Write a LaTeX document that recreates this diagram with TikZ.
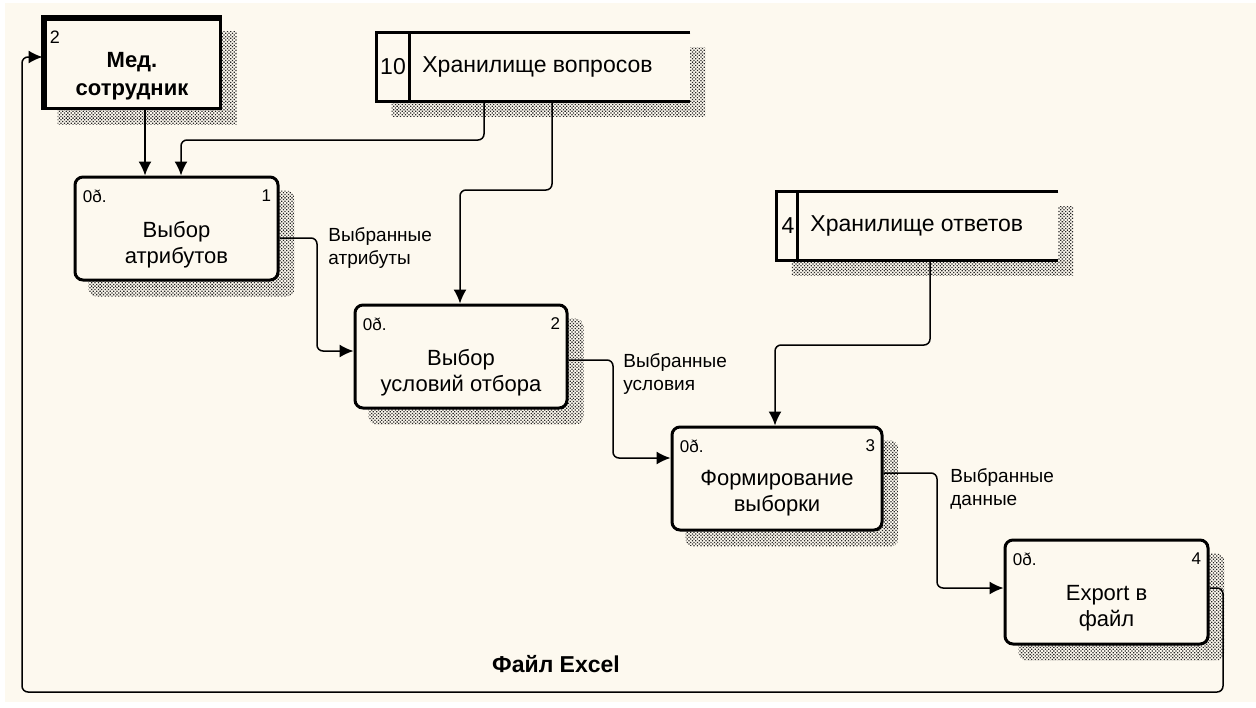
\documentclass[tikz,border=0pt]{standalone}
\usepackage{fontspec}
\setmainfont{Liberation Sans}
\usetikzlibrary{arrows.meta,patterns.meta,backgrounds}
\definecolor{cream}{RGB}{253,249,239}
\tikzset{
  proc/.style={draw, line width=1.5pt, rounded corners=4pt, fill=cream, inner sep=0pt},
  store/.style={fill=cream, inner sep=0pt},
  ptext/.style={font=\fontsize{11}{13}\selectfont, align=center, inner sep=0pt},
  stext/.style={font=\fontsize{11.5}{13}\selectfont, inner sep=0pt},
  shadowfill/.style={pattern={Dots[distance=1.2pt,radius=0.45pt,angle=45]}, pattern color=black!85},
  flow/.style={line width=0.75pt, rounded corners=3pt, -{Latex[length=7pt,width=6.5pt]}},
  lab/.style={font=\fontsize{9.5}{11.5}\selectfont, align=left, anchor=north west, inner sep=0pt},
  tag/.style={font=\fontsize{8.5}{9}\selectfont, inner sep=0pt},
}
\begin{document}
\begin{tikzpicture}[x=0.5pt,y=-0.5pt]
\useasboundingbox (0,0) rectangle (1256,707);
% nodes
\node[draw, line width=1.5pt, fill=cream, minimum width=88pt, minimum height=45pt, inner sep=0pt] (med) at (132,63) {};
\draw[line width=3pt] ([xshift=0.75pt]med.south west) -- ([shift={(0.75pt,-0.75pt)}]med.north west) -- ([yshift=-0.75pt]med.north east);
\node[font=\bfseries\fontsize{11}{14}\selectfont, align=center, inner sep=0pt] (medt) at ([yshift=-6.5pt]med.center) {Мед.\\сотрудник};
\node[tag, anchor=north west, font=\fontsize{9}{10}\selectfont] (medn) at ([shift={(7,14)}]med.north west) {2};

\node[store, minimum width=156.5pt, minimum height=34pt] (s1) at (533.5,67) {};
\draw[line width=1.5pt] (s1.north east) -- (s1.north west) -- (s1.south west) -- (s1.south east);
\draw[line width=1.5pt] ([xshift=16.5pt]s1.north west) -- ([xshift=16.5pt]s1.south west);
\node[stext] (s1n) at (393,67) {10};
\node[stext, anchor=west] (s1t) at (422,67) {Хранилище вопросов};

\node[store, minimum width=140.5pt, minimum height=34pt] (s2) at (917.5,226) {};
\draw[line width=1.5pt] (s2.north east) -- (s2.north west) -- (s2.south west) -- (s2.south east);
\draw[line width=1.5pt] ([xshift=10.5pt]s2.north west) -- ([xshift=10.5pt]s2.south west);
\node[stext] (s2n) at (788,226) {4};
\node[stext, anchor=west] (s2t) at (810,226) {Хранилище ответов};

\node[proc, minimum width=101.5pt, minimum height=51.5pt] (b1) at (176.5,228.5) {};
\node[ptext] (b1t) at ([yshift=-8pt]b1.center) {Выбор\\атрибутов};
\node[tag, anchor=north west] (b1a) at ([shift={(9,14)}]b1.north west) {0ð.};
\node[tag, anchor=north east] (b1b) at ([shift={(-8,14)}]b1.north east) {1};

\node[proc, minimum width=106pt, minimum height=51.5pt] (b2) at (461,356.5) {};
\node[ptext] (b2t) at ([yshift=-8pt]b2.center) {Выбор\\условий отбора};
\node[tag, anchor=north west] (b2a) at ([shift={(9,14)}]b2.north west) {0ð.};
\node[tag, anchor=north east] (b2b) at ([shift={(-8,14)}]b2.north east) {2};

\node[proc, minimum width=105pt, minimum height=51.5pt] (b3) at (777,478.5) {};
\node[ptext] (b3t) at ([yshift=-7.5pt]b3.center) {Формирование\\выборки};
\node[tag, anchor=north west] (b3a) at ([shift={(9,14)}]b3.north west) {0ð.};
\node[tag, anchor=north east] (b3b) at ([shift={(-8,14)}]b3.north east) {3};

\node[proc, minimum width=101.5pt, minimum height=52pt] (b4) at (1106.5,592) {};
\node[ptext] (b4t) at ([yshift=-8pt]b4.center) {Export в\\файл};
\node[tag, anchor=north west] (b4a) at ([shift={(9,14)}]b4.north west) {0ð.};
\node[tag, anchor=north east] (b4b) at ([shift={(-8,14)}]b4.north east) {4};

% background and shadows
\begin{scope}[on background layer]
\fill[white] (0,0) rectangle (1256,707);
\fill[cream] (5,3) rectangle (1256,702);
\fill[shadowfill] ([shift={(15,15)}]med.south west) rectangle ([shift={(15,15)}]med.north east);
\fill[shadowfill] ([shift={(15,15)}]s1.south west) rectangle ([shift={(15,15)}]s1.north east);
\fill[shadowfill] ([shift={(15,15)}]s2.south west) rectangle ([shift={(15,15)}]s2.north east);
\foreach \b in {b1,b2,b3,b4}
  \fill[shadowfill, rounded corners=4pt] ([shift={(15,15)}]\b.south west) rectangle ([shift={(15,15)}]\b.north east);
\end{scope}

% connectors
\coordinate (m1) at (145,0);
\draw[flow] (med.south -| m1) -- (b1.north -| m1);

\coordinate (q1) at (484,140);
\coordinate (q2) at (181,140);
\draw[flow] (s1.south -| q1) -- (q1) -- (q2) -- (b1.north -| q2);

\coordinate (q3) at (552,190);
\coordinate (q4) at (460,190);
\draw[flow] (s1.south -| q3) -- (q3) -- (q4) -- (b2.north -| q4);

\coordinate (r1) at (317,238);
\coordinate (r2) at (317,351);
\draw[flow] (b1.east |- r1) -- (r1) -- (r2) -- (b2.west |- r2);
\node[lab] (l1) at (328,227) {Выбранные\\атрибуты};

\coordinate (r3) at (613,360);
\coordinate (r4) at (613,458);
\draw[flow] (b2.east |- r3) -- (r3) -- (r4) -- (b3.west |- r4);
\node[lab] (l2) at (623,353) {Выбранные\\условия};

\coordinate (q5) at (930,345);
\coordinate (q6) at (775,345);
\draw[flow] (s2.south -| q5) -- (q5) -- (q6) -- (b3.north -| q6);

\coordinate (r5) at (937,473);
\coordinate (r6) at (937,588);
\draw[flow] (b3.east |- r5) -- (r5) -- (r6) -- (b4.west |- r6);
\node[lab] (l3) at (950,468) {Выбранные\\данные};

\coordinate (f1) at (1223,588);
\coordinate (f2) at (1223,692);
\coordinate (f3) at (22,692);
\coordinate (f4) at (22,57);
\draw[flow] (b4.east |- f1) -- (f1) -- (f2) -- (f3) -- (f4) -- (med.west |- f4);
\node[font=\bfseries\fontsize{11.5}{13}\selectfont, inner sep=0pt] (fx) at (556,664) {Файл Excel};
\end{tikzpicture}
\end{document}
